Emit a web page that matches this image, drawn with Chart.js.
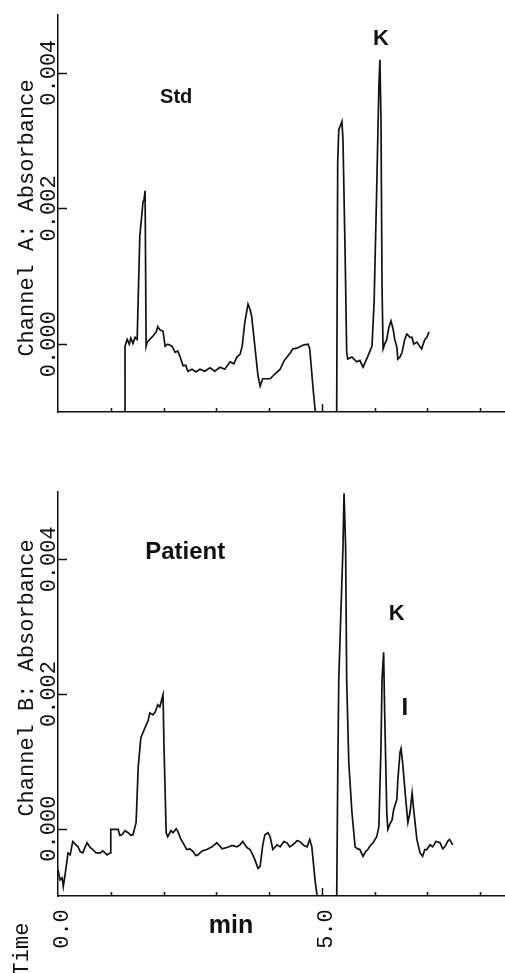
<!DOCTYPE html>
<html>
<head>
<meta charset="utf-8">
<script src="https://cdn.jsdelivr.net/npm/chart.js@4.4.1/dist/chart.umd.min.js"></script>
<style>
  html, body { margin: 0; padding: 0; background: #fff; }
  body { width: 505px; height: 973px; position: relative; overflow: hidden; }
  canvas { position: absolute; left: 0; }
  #std-chart { top: 0; }
  #patient-chart { top: 430px; }
</style>
</head>
<body>
<canvas id="std-chart" width="505" height="430"></canvas>
<canvas id="patient-chart" width="505" height="543"></canvas>
<script>
// Channel A (Std) trace: time in min, absorbance. null breaks the line.
const stdTime = [1.27, 1.27, 1.31, 1.35, 1.38, 1.42, 1.46, 1.50, 1.55, 1.61, 1.63, 1.65, 1.67, 1.69, 1.74, 1.80,
  1.86, 1.89, 1.93, 1.99, 2.03, 2.08, 2.16, 2.22, 2.27, 2.31, 2.37, 2.42, 2.46, 2.54, 2.61, 2.69, 2.78, 2.88,
  2.97, 3.07, 3.16, 3.26, 3.33, 3.39, 3.45, 3.49, 3.54, 3.60, 3.64, 3.67, 3.73, 3.79, 3.83, 3.88, 3.96, 4.02,
  4.11, 4.21, 4.28, 4.34, 4.41, 4.45, 4.53, 4.58, 4.66, 4.74, 4.77, 4.83, 4.87, 4.91, 5.10,
  5.28, 5.30, 5.32, 5.36, 5.38, 5.40, 5.44, 5.47, 5.49, 5.57, 5.66, 5.72, 5.78, 5.83, 5.87, 5.95, 5.99, 6.04,
  6.08, 6.10, 6.12, 6.14, 6.16, 6.19, 6.23, 6.27, 6.31, 6.35, 6.38, 6.42, 6.44, 6.48, 6.52, 6.57, 6.61, 6.67,
  6.71, 6.74, 6.80, 6.86, 6.89, 6.95, 6.99, 7.03];
const stdAbs = [-0.0011, -0.00003, 0.00007, 0.00000, 0.00009, 0.00001, 0.00010, 0.00007, 0.00159, 0.00209, 0.00213,
  0.00226, -0.00003, 0.00003, 0.00007, 0.00012, 0.00018, 0.00026, 0.00021, 0.00019, -0.00003, 0.00000, -0.00003,
  -0.00012, -0.00010, -0.00018, -0.00032, -0.00031, -0.00040, -0.00037, -0.00041, -0.00037, -0.00040, -0.00035,
  -0.00040, -0.00034, -0.00037, -0.00026, -0.00029, -0.00019, -0.00015, -0.00003, 0.00032, 0.00059, 0.00051,
  0.00041, -0.00003, -0.00047, -0.00062, -0.00051, -0.00051, -0.00051, -0.00044, -0.00037, -0.00025, -0.00019,
  -0.00012, -0.00007, -0.00006, -0.00004, -0.00001, 0.00000, -0.00007, -0.00062, -0.00096, -0.00110, null,
  -0.00110, 0.00268, 0.00316, 0.00324, 0.00328, 0.00301, 0.00135, -0.00012, -0.00022, -0.00019, -0.00026,
  -0.00024, -0.00034, -0.00025, -0.00018, -0.00003, 0.00062, 0.00232, 0.00379, 0.00419, 0.00331, 0.00085,
  -0.00007, 0.00000, 0.00007, 0.00025, 0.00034, 0.00022, 0.00007, -0.00004, -0.00022, -0.00019, -0.00012,
  0.00007, 0.00015, 0.00010, 0.00010, 0.00000, 0.00003, -0.00004, -0.00007, 0.00007, 0.00010, 0.00018];

// Channel B (Patient) trace
const patientTime = [0.00, 0.04, 0.08, 0.10, 0.13, 0.19, 0.23, 0.28, 0.34, 0.38, 0.42, 0.47, 0.51, 0.55, 0.61,
  0.66, 0.72, 0.80, 0.85, 0.93, 0.99, 1.00, 1.08, 1.14, 1.17, 1.21, 1.27, 1.33, 1.38, 1.42, 1.48, 1.52, 1.57,
  1.65, 1.71, 1.74, 1.80, 1.84, 1.89, 1.93, 1.99, 2.01, 2.05, 2.08, 2.14, 2.18, 2.24, 2.27, 2.33, 2.37, 2.44,
  2.50, 2.56, 2.61, 2.65, 2.73, 2.82, 2.92, 3.01, 3.11, 3.20, 3.30, 3.39, 3.45, 3.50, 3.58, 3.64, 3.69, 3.73,
  3.79, 3.83, 3.88, 3.92, 3.98, 4.02, 4.07, 4.15, 4.21, 4.28, 4.34, 4.39, 4.45, 4.53, 4.58, 4.66, 4.72, 4.77,
  4.81, 4.87, 4.91, 4.92, 5.10,
  5.28, 5.30, 5.32, 5.36, 5.40, 5.42, 5.45, 5.47, 5.51, 5.57, 5.63, 5.68, 5.72, 5.78, 5.83, 5.87, 5.93, 5.97,
  6.04, 6.08, 6.12, 6.14, 6.17, 6.19, 6.23, 6.25, 6.29, 6.33, 6.36, 6.42, 6.44, 6.48, 6.50, 6.53, 6.59, 6.63,
  6.67, 6.71, 6.74, 6.80, 6.86, 6.91, 6.95, 6.99, 7.05, 7.10, 7.16, 7.24, 7.29, 7.33, 7.39, 7.42, 7.48];
const patientAbs = [-0.00061, -0.00076, -0.00073, -0.00086, -0.00071, -0.00036, -0.00039, -0.00019, -0.00024,
  -0.00027, -0.00034, -0.00036, -0.00028, -0.00021, -0.00028, -0.00031, -0.00036, -0.00036, -0.00033, -0.00039,
  -0.00036, -0.00001, -0.00001, -0.00001, -0.00010, -0.00009, -0.00003, -0.00006, -0.00010, -0.00009, 0.00009,
  0.00092, 0.00135, 0.00150, 0.00161, 0.00172, 0.00169, 0.00173, 0.00184, 0.00181, 0.00199, 0.00117, -0.00006,
  -0.00012, -0.00003, -0.00006, 0.00000, -0.00004, -0.00016, -0.00021, -0.00031, -0.00030, -0.00034, -0.00040,
  -0.00039, -0.00033, -0.00031, -0.00027, -0.00021, -0.00030, -0.00028, -0.00025, -0.00027, -0.00024, -0.00019,
  -0.00028, -0.00031, -0.00039, -0.00046, -0.00059, -0.00056, -0.00024, -0.00009, -0.00006, -0.00012, -0.00031,
  -0.00024, -0.00027, -0.00019, -0.00021, -0.00027, -0.00024, -0.00018, -0.00019, -0.00025, -0.00027, -0.00016,
  -0.00027, -0.00076, -0.00100, -0.00113, null,
  -0.00113, 0.00073, 0.00221, 0.00320, 0.00418, 0.00498, 0.00418, 0.00221, 0.00098, 0.00024, -0.00027, -0.00030,
  -0.00031, -0.00041, -0.00034, -0.00031, -0.00024, -0.00021, -0.00012, 0.00003, 0.00121, 0.00221, 0.00262,
  0.00172, 0.00024, -0.00001, 0.00007, 0.00013, 0.00028, 0.00043, 0.00073, 0.00113, 0.00119, 0.00098, 0.00043,
  0.00009, 0.00024, 0.00053, 0.00028, -0.00016, -0.00036, -0.00041, -0.00031, -0.00031, -0.00024, -0.00027,
  -0.00019, -0.00021, -0.00030, -0.00027, -0.00018, -0.00016, -0.00024];

// Axis ticks
const yTickValues = [0, 0.002, 0.004];
const yTickLabels = ['0.000', '0.002', '0.004'];
const xTickValues = [1, 2, 3, 4, 5, 6, 7, 8];
const xLabelValues = [0, 5];
const xLabelTexts = ['0.0', '5.0'];

// Peak labels (time, absorbance of baseline)
const stdNotes = [
  { text: 'Std', t: 2.24, v: 0.00356, size: 20 },
  { text: 'K', t: 6.12, v: 0.00441, size: 22 }
];
const patientNotes = [
  { text: 'Patient', t: 2.41, v: 0.00401, size: 24 },
  { text: 'K', t: 6.42, v: 0.00310, size: 22 },
  { text: 'I', t: 6.57, v: 0.00169, size: 24 }
];

const INK = '#111';
const MONO = '"Liberation Mono", "Courier New", monospace';
const SANS = '"Liberation Sans", Arial, Helvetica, sans-serif';

// draw text rotated to read bottom-to-top, baseline on the right
function drawUp(ctx, text, baseX, centerY) {
  ctx.save();
  ctx.translate(baseX, centerY);
  ctx.rotate(-Math.PI / 2);
  ctx.fillText(text, 0, 0);
  ctx.restore();
}

function makeDecor(cfg) {
  return {
    id: 'decor',
    afterDraw(chart) {
      const { ctx, chartArea } = chart;
      const x = chart.scales.x;
      const y = chart.scales.y;
      ctx.save();
      ctx.strokeStyle = INK;
      ctx.fillStyle = INK;
      ctx.lineWidth = 1.5;

      // tick marks point into the plot
      yTickValues.forEach(v => {
        const py = Math.round(y.getPixelForValue(v)) + 0.5;
        ctx.beginPath();
        ctx.moveTo(chartArea.left, py);
        ctx.lineTo(chartArea.left + 9, py);
        ctx.stroke();
      });
      xTickValues.forEach(t => {
        const px = Math.round(x.getPixelForValue(t)) + 0.5;
        const len = t === 5 ? 8 : 4;
        ctx.beginPath();
        ctx.moveTo(px, chartArea.bottom);
        ctx.lineTo(px, chartArea.bottom - len);
        ctx.stroke();
      });

      // y tick labels and title, rotated
      ctx.font = '22px ' + MONO;
      ctx.textAlign = 'center';
      ctx.textBaseline = 'alphabetic';
      yTickValues.forEach((v, i) => drawUp(ctx, yTickLabels[i], chartArea.left - 3, y.getPixelForValue(v)));
      drawUp(ctx, cfg.yTitle, 33, cfg.yTitleY);

      if (cfg.showTime) {
        xLabelValues.forEach((t, i) => drawUp(ctx, xLabelTexts[i], x.getPixelForValue(t) + 10, chartArea.bottom + 33));
        drawUp(ctx, 'Time', 28, chartArea.bottom + 53);
        ctx.font = 'bold 25px ' + SANS;
        ctx.fillText('min', 231, chartArea.bottom + 37);
      }

      // peak labels
      cfg.notes.forEach(n => {
        ctx.font = 'bold ' + n.size + 'px ' + SANS;
        ctx.fillText(n.text, x.getPixelForValue(n.t), y.getPixelForValue(n.v));
      });
      ctx.restore();
    }
  };
}

function buildChart(canvasId, times, values, cfg) {
  const points = times.map((t, i) => ({ x: t, y: values[i] }));
  return new Chart(document.getElementById(canvasId), {
    type: 'line',
    data: {
      datasets: [{
        data: points,
        borderColor: INK,
        borderWidth: 1.7,
        pointRadius: 0,
        tension: 0,
        spanGaps: false
      }]
    },
    options: {
      responsive: false,
      animation: false,
      events: [],
      layout: { padding: { top: cfg.padTop, left: 0, right: 0, bottom: 0 } },
      plugins: { legend: { display: false }, tooltip: { enabled: false } },
      scales: {
        x: {
          type: 'linear', min: 0, max: 8.47,
          grid: { display: false },
          ticks: { display: false },
          border: { color: INK, width: 1.5 },
          afterFit: s => { s.height = cfg.xAxisHeight; }
        },
        y: {
          type: 'linear', min: -0.001, max: cfg.yMax,
          grid: { display: false },
          ticks: { display: false },
          border: { color: INK, width: 1.5 },
          afterFit: s => { s.width = 58; }
        }
      }
    },
    plugins: [makeDecor(cfg)]
  });
}

buildChart('std-chart', stdTime, stdAbs, {
  padTop: 15, xAxisHeight: 18, yMax: 0.00485,
  yTitle: 'Channel A: Absorbance', yTitleY: 218,
  notes: stdNotes, showTime: false
});

buildChart('patient-chart', patientTime, patientAbs, {
  padTop: 62, xAxisHeight: 77, yMax: 0.005,
  yTitle: 'Channel B: Absorbance', yTitleY: 248,
  notes: patientNotes, showTime: true
});
</script>
</body>
</html>
